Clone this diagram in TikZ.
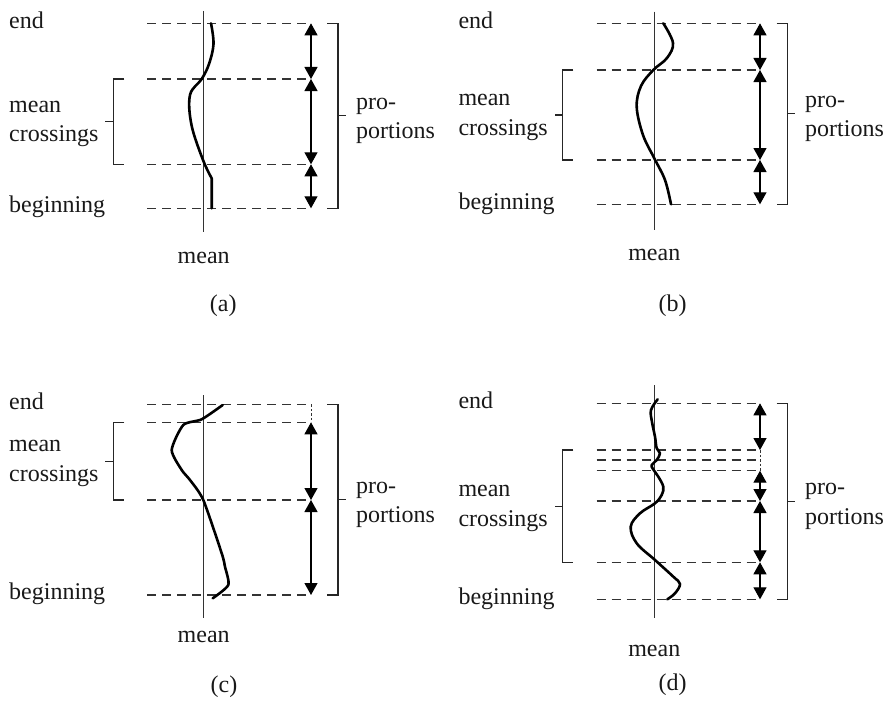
\documentclass[tikz,border=0pt]{standalone}
\usepackage{fontspec}
\setmainfont{Liberation Serif}
\usetikzlibrary{arrows.meta}
\begin{document}
\begin{tikzpicture}[x=1pt,y=-1pt,
  lbl/.style={inner sep=0pt, font=\fontsize{24}{28}\selectfont, text=black!90},
  guide/.style={draw=black!80, line width=1.3pt, dash pattern=on 9pt off 6pt},
  dotguide/.style={draw=black!80, line width=1pt, dash pattern=on 2.5pt off 2pt},
  meanline/.style={draw=black!80, line width=1.4pt},
  series/.style={draw=black, line width=2.6pt, line join=round, line cap=round},
  bracket/.style={draw=black!85, line width=1.3pt},
  dimarrow/.style={draw=black, line width=1.2pt, {Triangle[width=13pt,length=12pt]}-{Triangle[width=13pt,length=12pt]}},
]
\useasboundingbox (0,0) rectangle (891,701);

% ================= panel (a) =================
\foreach \n/\y in {1/23.3,2/79,3/164.3,4/208.3} {
  \coordinate (aL\n) at (147,\y); \coordinate (aR\n) at (311,\y);
  \draw[guide] (aL\n) -- (aR\n);
}
\coordinate (aMt) at (203.7,11); \coordinate (aMb) at (203.7,232);
\draw[meanline] (aMt) -- (aMb);
\draw[series] plot[smooth, tension=0.6] coordinates {(211,23.3) (213.5,44) (209,64) (201.7,79) (190,95) (191.5,125) (203,160) (211.7,178.3)} -- (211.7,208.3);
\draw[dimarrow] (aR1) -- (aR2);
\draw[dimarrow] (aR2) -- (aR3);
\draw[dimarrow] (aR3) -- (aR4);
\draw[bracket] (124.3,79) -- (113.3,79) -- (113.3,164.3) -- (124.3,164.3);
\draw[bracket] (113.3,121.7) -- (105.3,121.7);
\draw[bracket] (327,23.3) -- (338,23.3) -- (338,208.3) -- (327,208.3);
\draw[bracket] (338,115.8) -- (345.7,115.8);
\node[lbl, anchor=base west] (aEnd) at (9,28.3) {end};
\node[lbl, anchor=base west] (aMean) at (9,112.3) {mean};
\node[lbl, anchor=base west] (aCross) at (9,141.7) {crossings};
\node[lbl, anchor=base west] (aBeg) at (9,212.3) {beginning};
\node[lbl, anchor=base west] (aPro) at (356,109.3) {pro-};
\node[lbl, anchor=base west] (aPort) at (356,138.8) {portions};
\node[lbl, anchor=base] (aMeanB) at (203.7,263) {mean};
\node[lbl, anchor=base] (aCap) at (223.3,311) {(a)};

% ================= panel (b) =================
\foreach \n/\y in {1/23.3,2/70,3/160,4/204.3} {
  \coordinate (bL\n) at (596.7,\y); \coordinate (bR\n) at (760,\y);
  \draw[guide] (bL\n) -- (bR\n);
}
\coordinate (bMt) at (654.3,11.7); \coordinate (bMb) at (654.3,230);
\draw[meanline] (bMt) -- (bMb);
\draw[series] plot[smooth, tension=0.6] coordinates {(663.3,23.3) (673,43) (667,58) (653.3,70) (641,86) (636.7,107) (643,135) (654.3,158.3) (665,180) (671,204.3)};
\draw[dimarrow] (bR1) -- (bR2);
\draw[dimarrow] (bR2) -- (bR3);
\draw[dimarrow] (bR3) -- (bR4);
\draw[bracket] (573.3,70) -- (562.3,70) -- (562.3,160) -- (573.3,160);
\draw[bracket] (562.3,115) -- (555,115);
\draw[bracket] (776.7,23.3) -- (787.7,23.3) -- (787.7,204.3) -- (776.7,204.3);
\draw[bracket] (787.7,113.8) -- (795,113.8);
\node[lbl, anchor=base west] (bEnd) at (458.3,28.3) {end};
\node[lbl, anchor=base west] (bMean) at (458.3,105.6) {mean};
\node[lbl, anchor=base west] (bCross) at (458.3,135) {crossings};
\node[lbl, anchor=base west] (bBeg) at (458.3,209.3) {beginning};
\node[lbl, anchor=base west] (bPro) at (805,107.3) {pro-};
\node[lbl, anchor=base west] (bPort) at (805,136.8) {portions};
\node[lbl, anchor=base] (bMeanB) at (654.3,260) {mean};
\node[lbl, anchor=base] (bCap) at (672.7,311) {(b)};

% ================= panel (c) =================
\foreach \n/\y in {1/404.3,2/422.3,3/500,4/595} {
  \coordinate (cL\n) at (147,\y); \coordinate (cR\n) at (311,\y);
  \draw[guide] (cL\n) -- (cR\n);
}
\draw[dotguide] (cR1) -- (cR2);
\coordinate (cMt) at (203.7,395); \coordinate (cMb) at (203.7,618.3);
\draw[meanline] (cMt) -- (cMb);
\draw[series] plot[smooth, tension=0.4] coordinates {(222.7,405) (201.7,419.3) (183.3,425) (171.7,450) (181.7,470) (190,480) (203.3,500) (221.7,553.3) (225,566.7) (228.3,585) (212.7,598.3)};
\draw[dimarrow] (cR2) -- (cR3);
\draw[dimarrow] (cR3) -- (cR4);
\draw[bracket] (124.3,422.3) -- (113.3,422.3) -- (113.3,500) -- (124.3,500);
\draw[bracket] (113.3,461.2) -- (105.3,461.2);
\draw[bracket] (327,404.3) -- (338,404.3) -- (338,595) -- (327,595);
\draw[bracket] (338,499.7) -- (345.7,499.7);
\node[lbl, anchor=base west] (cEnd) at (9,409.3) {end};
\node[lbl, anchor=base west] (cMean) at (9,451.7) {mean};
\node[lbl, anchor=base west] (cCross) at (9,481) {crossings};
\node[lbl, anchor=base west] (cBeg) at (9,599.5) {beginning};
\node[lbl, anchor=base west] (cPro) at (356,493.2) {pro-};
\node[lbl, anchor=base west] (cPort) at (356,522.7) {portions};
\node[lbl, anchor=base] (cMeanB) at (203.7,642.7) {mean};
\node[lbl, anchor=base] (cCap) at (224,692) {(c)};

% ================= panel (d) =================
\foreach \n/\y in {1/403.3,2/450,3/460,4/470.7,5/501,6/562.3,7/599.3} {
  \coordinate (dL\n) at (596.7,\y); \coordinate (dR\n) at (760,\y);
  \draw[guide] (dL\n) -- (dR\n);
}
\draw[dotguide] (dR2) -- (dR4);
\coordinate (dMt) at (654.3,385); \coordinate (dMb) at (654.3,618.3);
\draw[meanline] (dMt) -- (dMb);
\draw[series] plot[smooth, tension=0.6] coordinates {(657.7,399.3) (651,410) (652,422) (655,436.7) (656.7,448.3) (660,453.3) (656.7,460) (651.7,465) (653,469) (658.3,476.7) (663.3,486.7) (661.7,495) (655,503.3) (640,513.3) (630.7,526.7) (636.7,543.3) (655,560) (673.3,576.7) (680,584) (675,593.3) (667.3,599.3)};
\draw[dimarrow] (dR1) -- (dR2);
\draw[dimarrow] (dR4) -- (dR5);
\draw[dimarrow] (dR5) -- (dR6);
\draw[dimarrow] (dR6) -- (dR7);
\draw[bracket] (573.3,450) -- (562.3,450) -- (562.3,562.3) -- (573.3,562.3);
\draw[bracket] (562.3,506.2) -- (555,506.2);
\draw[bracket] (776.7,403.3) -- (787.7,403.3) -- (787.7,599.3) -- (776.7,599.3);
\draw[bracket] (787.7,501.3) -- (795,501.3);
\node[lbl, anchor=base west] (dEnd) at (458.3,408.3) {end};
\node[lbl, anchor=base west] (dMean) at (458.3,496.7) {mean};
\node[lbl, anchor=base west] (dCross) at (458.3,526) {crossings};
\node[lbl, anchor=base west] (dBeg) at (458.3,604) {beginning};
\node[lbl, anchor=base west] (dPro) at (805,494.8) {pro-};
\node[lbl, anchor=base west] (dPort) at (805,524.3) {portions};
\node[lbl, anchor=base] (dMeanB) at (654.3,656.7) {mean};
\node[lbl, anchor=base] (dCap) at (672.7,690) {(d)};
\end{tikzpicture}
\end{document}
